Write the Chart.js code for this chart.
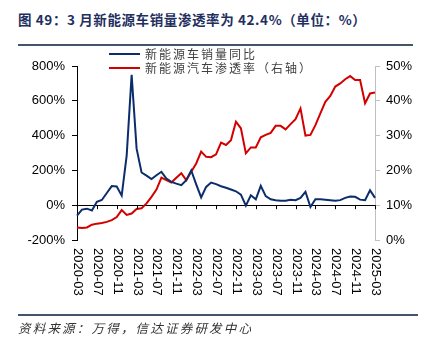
<!DOCTYPE html>
<html>
<head>
<meta charset="utf-8">
<script src="https://cdn.jsdelivr.net/npm/chart.js@4"></script>
<style>
    body { margin: 0; background: #fff; }
    #wrap { position: relative; width: 425px; height: 346px; overflow: hidden; }
    #title { position: absolute; left: 18px; top: 9px; font: bold 13.5px "Noto Sans CJK SC"; color: #1f3060; white-space: pre; letter-spacing: 0.6px; }
    .rule { position: absolute; left: 18px; background: #44546a; }
    #src { position: absolute; left: 18px; top: 318px; font: italic 12.5px "Noto Sans CJK SC"; color: #333; letter-spacing: 2.2px; white-space: nowrap; }
    canvas { position: absolute; left: 0; top: 0; }
</style>
</head>
<body>
<div id="wrap">
    <div id="title">图 49：3 月新能源车销量渗透率为 42.4%（单位：%）</div>
    <div class="rule" style="top:44px;width:395px;height:2px;"></div>
    <canvas id="chart-nev" width="425" height="346"></canvas>
    <div class="rule" style="top:314px;width:400px;height:1.5px;"></div>
    <div id="src">资料来源：万得，信达证券研发中心</div>
</div>
<script>
// 月份 (2020-03 ~ 2025-03)
const months = [
    '2020-03','2020-04','2020-05','2020-06','2020-07','2020-08','2020-09','2020-10','2020-11','2020-12',
    '2021-01','2021-02','2021-03','2021-04','2021-05','2021-06','2021-07','2021-08','2021-09','2021-10',
    '2021-11','2021-12','2022-01','2022-02','2022-03','2022-04','2022-05','2022-06','2022-07','2022-08',
    '2022-09','2022-10','2022-11','2022-12','2023-01','2023-02','2023-03','2023-04','2023-05','2023-06',
    '2023-07','2023-08','2023-09','2023-10','2023-11','2023-12','2024-01','2024-02','2024-03','2024-04',
    '2024-05','2024-06','2024-07','2024-08','2024-09','2024-10','2024-11','2024-12','2025-01','2025-02',
    '2025-03'
];

// 新能源车销量同比 (%, 左轴)
const salesYoY = [
    -60, -25, -20, -30, 20, 30, 70, 110, 108, 55,
    285, 750, 325, 188, 170, 150, 172, 192, 153, 134,
    124, 115, 144, 200, 120, 45, 105, 130, 121, 109,
    100, 90, 80, 61, -3, 57, 34, 111, 52, 34,
    29, 25, 26, 31, 29, 42, 77, -10, 34, 34,
    32, 29, 25, 29, 42, 50, 48, 32, 29, 86,
    42
];

// 新能源汽车渗透率 (%, 右轴)
const penetration = [
    3.6, 3.45, 3.6, 4.4, 4.7, 4.9, 5.2, 5.7, 6.6, 8.6,
    7.2, 7.6, 8.9, 9.1, 10.5, 12.4, 14.5, 17.9, 17.2, 16.5,
    17.9, 19.2, 17.2, 19.6, 22.0, 25.4, 23.9, 23.8, 24.6, 28.0,
    27.3, 28.7, 34.0, 32.1, 24.9, 26.6, 26.6, 29.5, 30.2, 30.8,
    32.8, 32.8, 31.8, 33.3, 34.7, 37.8, 30.0, 30.2, 33.0, 36.4,
    39.7, 41.4, 44.1, 45.0, 46.2, 47.1, 46.0, 46.0, 39.3, 42.1,
    42.4
];

const seriesNames = ['新能源车销量同比', '新能源汽车渗透率（右轴）'];
const seriesColors = ['#0b2d6b', '#d40000'];
const labelEvery = 4;

const axisFont = { family: '"Liberation Sans", Arial, sans-serif', size: 13 };

// 轴标签、刻度、图例都在这里画
const decorPlugin = {
    id: 'decor',
    afterDraw(chart) {
        const ctx = chart.ctx;
        const xs = chart.scales.x;
        const ys = chart.scales.y;
        const area = chart.chartArea;
        const y0 = ys.getPixelForValue(0);

        ctx.save();
        ctx.strokeStyle = '#000';
        ctx.lineWidth = 1;
        ctx.fillStyle = '#000';
        ctx.font = '13px "Liberation Sans", Arial, sans-serif';
        months.forEach((m, i) => {
            if (i % labelEvery !== 0) return;
            const x = Math.round(xs.getPixelForValue(i)) + 0.5;
            ctx.beginPath();
            ctx.moveTo(x, y0);
            ctx.lineTo(x, y0 + 4);
            ctx.stroke();

            ctx.save();
            ctx.translate(x, area.bottom + 8);
            ctx.rotate(Math.PI / 2);
            ctx.textAlign = 'left';
            ctx.textBaseline = 'middle';
            ctx.fillText(m, 0, 0);
            ctx.restore();
        });

        // 图例
        ctx.font = '12px "Noto Sans CJK SC"';
        ctx.letterSpacing = '2px';
        ctx.textAlign = 'left';
        ctx.textBaseline = 'middle';
        chart.data.datasets.forEach((ds, k) => {
            const ly = 54 + k * 14;
            ctx.strokeStyle = ds.borderColor;
            ctx.lineWidth = 2;
            ctx.beginPath();
            ctx.moveTo(109, ly);
            ctx.lineTo(140, ly);
            ctx.stroke();
            ctx.fillStyle = '#404040';
            ctx.fillText(ds.label, 145, ly);
        });
        ctx.restore();
    }
};

new Chart(document.getElementById('chart-nev'), {
    type: 'line',
    data: {
        labels: months,
        datasets: [
            {
                label: seriesNames[0],
                data: salesYoY,
                yAxisID: 'y',
                borderColor: seriesColors[0],
                borderWidth: 2,
                pointRadius: 0,
                tension: 0,
            },
            {
                label: seriesNames[1],
                data: penetration,
                yAxisID: 'y1',
                borderColor: seriesColors[1],
                borderWidth: 2,
                pointRadius: 0,
                tension: 0,
            }
        ]
    },
    options: {
        responsive: false,
        animation: false,
        layout: { padding: { top: 66, left: 0, right: 0, bottom: 0 } },
        scales: {
            x: {
                ticks: { display: false },
                grid: { display: false },
                border: { display: false },
                afterFit: s => { s.height = 106; }
            },
            y: {
                position: 'left',
                min: -200, max: 800,
                ticks: { stepSize: 200, color: '#000', font: axisFont, padding: 7, callback: v => v + '%' },
                grid: {
                    color: c => (c.tick && c.tick.value === 0) ? '#000' : 'rgba(0,0,0,0)',
                    tickColor: '#000',
                    tickLength: 5,
                },
                border: { color: '#000', width: 1 },
                afterFit: s => { s.width = 77; }
            },
            y1: {
                position: 'right',
                min: 0, max: 50,
                ticks: { stepSize: 10, color: '#000', font: axisFont, padding: 6, callback: v => v + '%' },
                grid: { drawOnChartArea: false, tickColor: '#bfbfbf', tickLength: 5 },
                border: { color: '#bfbfbf', width: 1 },
                afterFit: s => { s.width = 50; }
            }
        },
        plugins: {
            legend: { display: false },
            tooltip: { enabled: false }
        }
    },
    plugins: [decorPlugin]
});
</script>
</body>
</html>
